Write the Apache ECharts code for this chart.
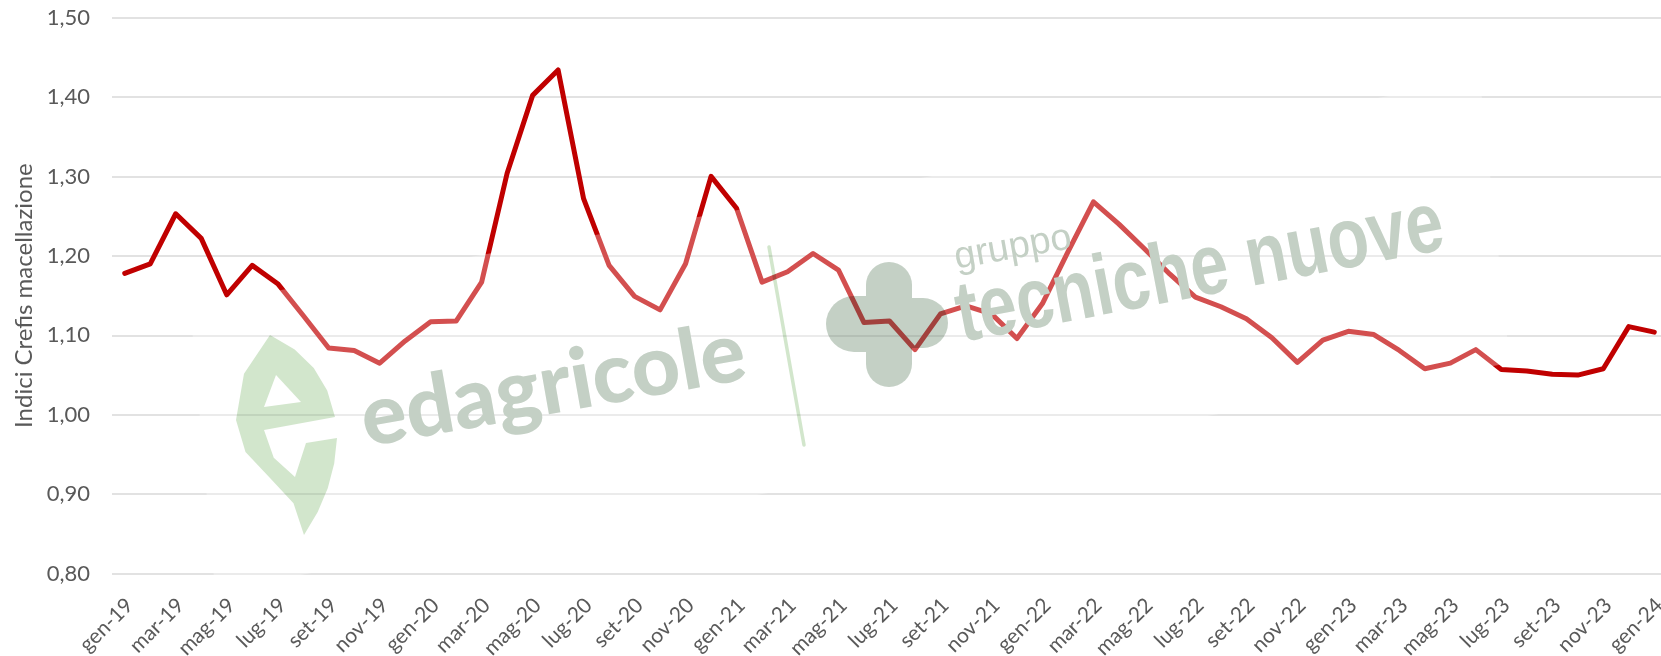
<!DOCTYPE html>
<html>
<head>
<meta charset="utf-8">
<script src="https://cdn.jsdelivr.net/npm/echarts@6/dist/echarts.min.js"></script>
<style>
html,body{margin:0;padding:0;background:#fff;}
#chart{width:1661px;height:656px;}
</style>
</head>
<body>
<div id="chart"></div>
<script>
// ---- data ----
const categories = [
  'gen-19','feb-19','mar-19','apr-19','mag-19','giu-19','lug-19','ago-19','set-19','ott-19','nov-19','dic-19',
  'gen-20','feb-20','mar-20','apr-20','mag-20','giu-20','lug-20','ago-20','set-20','ott-20','nov-20','dic-20',
  'gen-21','feb-21','mar-21','apr-21','mag-21','giu-21','lug-21','ago-21','set-21','ott-21','nov-21','dic-21',
  'gen-22','feb-22','mar-22','apr-22','mag-22','giu-22','lug-22','ago-22','set-22','ott-22','nov-22','dic-22',
  'gen-23','feb-23','mar-23','apr-23','mag-23','giu-23','lug-23','ago-23','set-23','ott-23','nov-23','dic-23',
  'gen-24'
];
const values2019 = [1.178, 1.190, 1.253, 1.222, 1.151, 1.188, 1.165, 1.125, 1.084, 1.081, 1.065, 1.093];
const values2020 = [1.117, 1.118, 1.167, 1.304, 1.402, 1.434, 1.272, 1.188, 1.149, 1.132, 1.190, 1.300];
const values2021 = [1.260, 1.167, 1.180, 1.203, 1.182, 1.116, 1.118, 1.082, 1.127, 1.137, 1.127, 1.096];
const values2022 = [1.140, 1.205, 1.268, 1.240, 1.209, 1.177, 1.148, 1.136, 1.121, 1.097, 1.066, 1.094];
const values2023 = [1.105, 1.101, 1.081, 1.058, 1.065, 1.082, 1.057, 1.055, 1.051, 1.050, 1.058, 1.111];
const values2024 = [1.104];
const yTicks = [0.8, 0.9, 1.0, 1.1, 1.2, 1.3, 1.4, 1.5];
const axisName = 'Indici Crefis macellazione';

const seriesValues = [].concat(values2019, values2020, values2021, values2022, values2023, values2024);

const chart = echarts.init(document.getElementById('chart'), null, {renderer: 'canvas'});
const txt = '#595959';
const grey = '#C4D0C5';
const green = '#D2E6CC';

const leafPts = [[270,335],[294.7,349.5],[313.75,368],[327.2,390.5],[335,417],[264,430],[273.75,457.75],[295,477],
  [306,443],[337,438],[334.2,463.5],[327.75,488.25],[317.7,512],[304,535],[293.5,503.25],[270,478],[245.5,452],
  [236,420],[244,373.75]];

const option = {
  animation: false,
  backgroundColor: '#ffffff',
  grid: {left: 112, right: -6, top: 17.5, bottom: 82.3, containLabel: false, outerBoundsMode: 'none'},
  xAxis: {
    type: 'category',
    data: categories,
    boundaryGap: true,
    axisLine: {show: false},
    axisTick: {show: false},
    axisLabel: {
      interval: 1,
      rotate: 45,
      margin: 33,
      padding: [0, -7, 0, 0],
      color: txt,
      fontFamily: 'Lato',
      fontSize: 21
    },
    splitLine: {show: false}
  },
  yAxis: {
    type: 'value',
    min: yTicks[0],
    max: yTicks[yTicks.length - 1],
    interval: 0.1,
    name: axisName,
    nameLocation: 'middle',
    nameGap: 76,
    nameTextStyle: {color: txt, fontFamily: 'Lato', fontSize: 24},
    axisLine: {show: false},
    axisTick: {show: false},
    axisLabel: {
      margin: 22,
      color: txt,
      fontFamily: 'Lato',
      fontSize: 22,
      formatter: v => v.toFixed(2).replace('.', ',')
    },
    splitLine: {lineStyle: {color: '#D9D9D9', width: 1.5}}
  },
  series: [{
    type: 'line',
    data: seriesValues,
    symbol: 'none',
    lineStyle: {color: '#C00000', width: 5, join: 'round', cap: 'round'},
    z: 2
  }],
  graphic: [
    {
      type: 'polygon', z: 50, silent: true,
      shape: {points: [[190, 306], [1480, 80], [1510, 363], [215, 590]]},
      style: {fill: 'rgba(255,255,255,0.31)'}
    },
    {
      type: 'polygon', z: 60, silent: true,
      shape: {points: leafPts, smooth: 0},
      style: {fill: green, blend: 'multiply'}
    },
    {
      type: 'polygon', z: 61, silent: true,
      shape: {points: [[276,375],[264,407],[301,402]]},
      style: {fill: '#ffffff'}
    },
    {
      type: 'line', z: 60, silent: true,
      shape: {x1: 769, y1: 247, x2: 804, y2: 445},
      style: {stroke: green, lineWidth: 3.5, lineCap: 'round', blend: 'multiply'}
    },
    {
      type: 'text', z: 60, silent: true,
      x: 553, y: 386, rotation: 0.176,
      style: {
        text: 'edagricole', fill: grey, blend: 'multiply',
        font: '900 84px Lato', align: 'center', verticalAlign: 'middle'
      }
    },
    {
      type: 'rect', z: 60, silent: true,
      shape: {x: 866, y: 262, width: 46, height: 125, r: 23},
      style: {fill: grey, blend: 'multiply'}
    },
    {
      type: 'rect', z: 60, silent: true,
      shape: {x: 826, y: 296, width: 40, height: 56, r: [28, 0, 0, 28]},
      style: {fill: grey, blend: 'multiply'}
    },
    {
      type: 'rect', z: 60, silent: true,
      shape: {x: 912, y: 298, width: 36, height: 50, r: [0, 25, 25, 0]},
      style: {fill: grey, blend: 'multiply'}
    },
    {
      type: 'text', z: 60, silent: true,
      x: 1013, y: 248, rotation: 0.176,
      style: {
        text: 'gruppo', fill: grey, blend: 'multiply',
        font: '38px "Liberation Sans"', align: 'center', verticalAlign: 'middle'
      }
    },
    {
      type: 'text', z: 60, silent: true,
      x: 1200, y: 272, rotation: 0.19, scaleX: 0.79,
      style: {
        text: 'tecniche nuove', fill: grey, blend: 'multiply',
        font: 'bold 86px "Liberation Sans"', align: 'center', verticalAlign: 'middle'
      }
    }
  ]
};
chart.setOption(option);
</script>
</body>
</html>
